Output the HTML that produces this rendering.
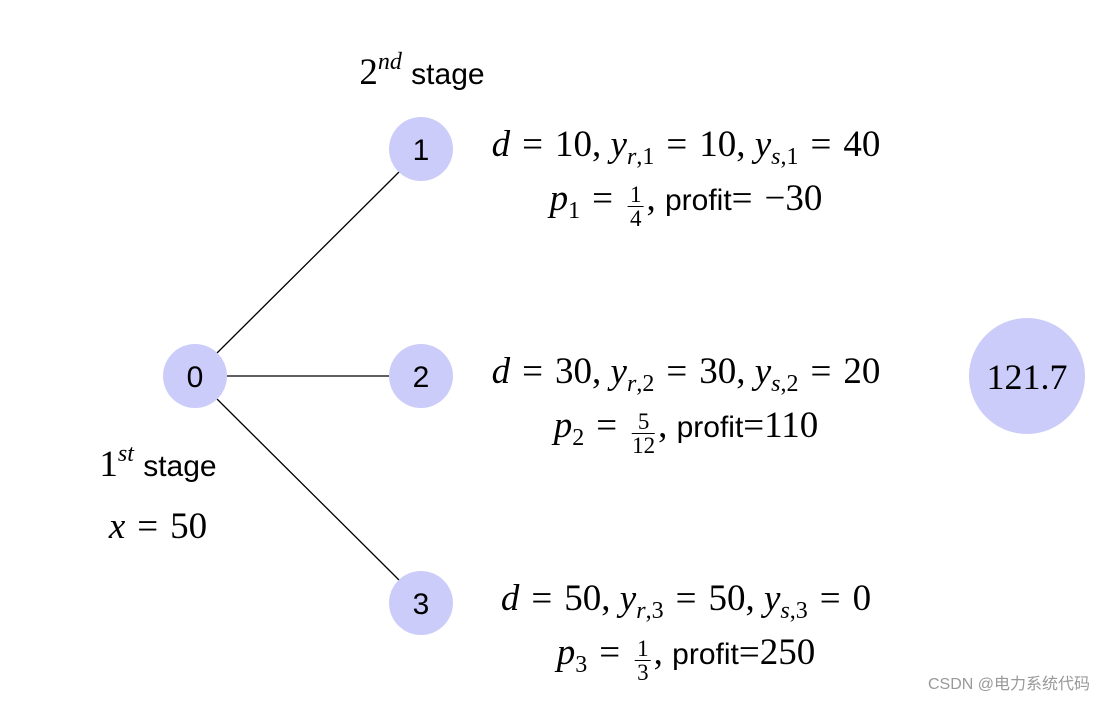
<!DOCTYPE html>
<html><head><meta charset="utf-8"><style>
body{margin:0;width:1105px;height:701px;background:#fff;position:relative;overflow:hidden;font-family:"Liberation Serif",serif;}
.t{position:absolute;white-space:nowrap;text-align:center;transform:translateX(-50%);color:#000;}
.m{font-size:37px;}
i{font-style:italic;}
b{font-weight:normal;margin:0 12px;}
sub{font-size:24px;vertical-align:-8px;line-height:0;}
sup{font-size:24px;vertical-align:15px;line-height:0;font-style:italic;}
.s{font-family:"Liberation Sans",sans-serif;font-size:30px;}
.fr{display:inline-block;vertical-align:-16px;text-align:center;font-size:23px;line-height:23px;margin:0 3px;}
.fr span{display:block;}
.fr span:first-child{border-bottom:1.3px solid #000;padding:0 2px;}
</style></head><body>
<svg width="1105" height="701" style="position:absolute;left:0;top:0">
<g stroke="#000" stroke-width="1.3">
<line x1="217" y1="353" x2="399" y2="172"/>
<line x1="227" y1="376" x2="389" y2="376"/>
<line x1="217" y1="399" x2="399" y2="580"/>
</g>
<g fill="#ccccfa">
<circle cx="195" cy="376" r="32"/>
<circle cx="421" cy="149" r="32"/>
<circle cx="421" cy="376" r="32"/>
<circle cx="421" cy="603" r="32"/>
<circle cx="1027" cy="376" r="58"/>
</g>
<g font-family="Liberation Sans,sans-serif" font-size="30" text-anchor="middle">
<text x="195" y="387">0</text>
<text x="421" y="160">1</text>
<text x="421" y="387">2</text>
<text x="421" y="614">3</text>
</g>
<text x="1027" y="389" text-anchor="middle" font-family="Liberation Serif,serif" font-size="36">121.7</text>
<text x="1090" y="689" text-anchor="end" font-family="Liberation Sans,'Noto Sans CJK SC',sans-serif" font-size="16" fill="#999">CSDN @电力系统代码</text>
</svg>
<div class="t m" style="left:422px;top:51px">2<sup>nd</sup> <span class="s">stage</span></div>
<div class="t m" style="left:158px;top:443px">1<sup>st</sup> <span class="s">stage</span></div>
<div class="t m" style="left:158px;top:505px"><i>x</i><b>=</b>50</div>

<div class="t m" style="left:686px;top:123px"><i>d</i><b>=</b>10, <i>y</i><sub><i>r</i>,1</sub><b>=</b>10, <i>y</i><sub><i>s</i>,1</sub><b>=</b>40</div>
<div class="t m" style="left:686px;top:177px"><i>p</i><sub>1</sub><b>=</b><span class="fr"><span>1</span><span>4</span></span>, <span class="s">profit</span><b style="margin-left:0">=</b>−30</div>

<div class="t m" style="left:686px;top:350px"><i>d</i><b>=</b>30, <i>y</i><sub><i>r</i>,2</sub><b>=</b>30, <i>y</i><sub><i>s</i>,2</sub><b>=</b>20</div>
<div class="t m" style="left:686px;top:404px"><i>p</i><sub>2</sub><b>=</b><span class="fr"><span>5</span><span>12</span></span>, <span class="s">profit</span>=110</div>

<div class="t m" style="left:686px;top:577px"><i>d</i><b>=</b>50, <i>y</i><sub><i>r</i>,3</sub><b>=</b>50, <i>y</i><sub><i>s</i>,3</sub><b>=</b>0</div>
<div class="t m" style="left:686px;top:631px"><i>p</i><sub>3</sub><b>=</b><span class="fr"><span>1</span><span>3</span></span>, <span class="s">profit</span>=250</div>
</body></html>
